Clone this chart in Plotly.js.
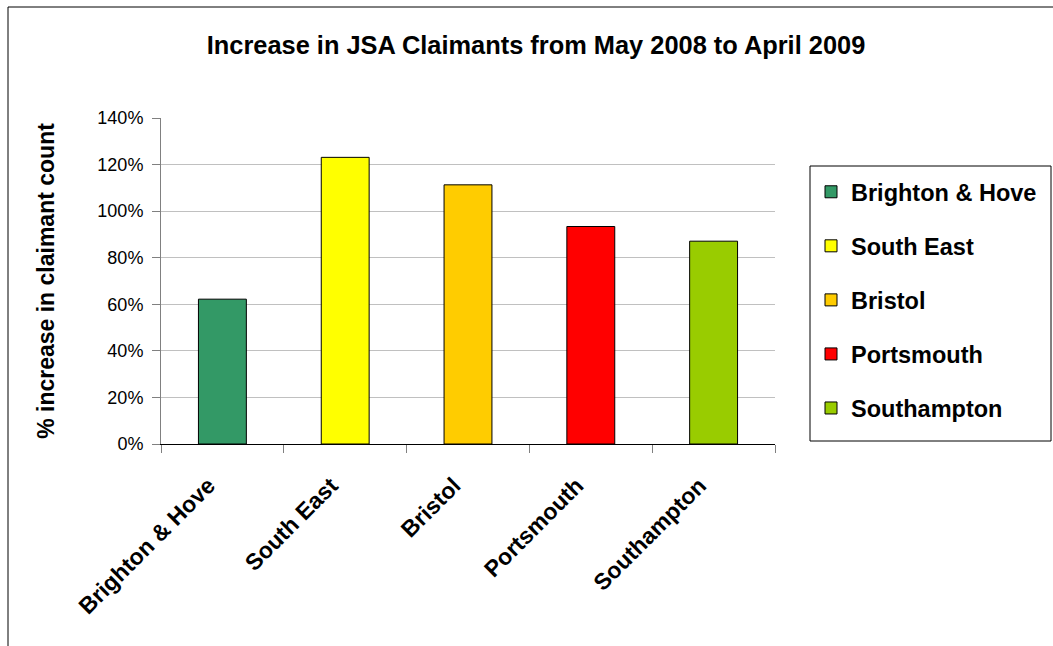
<!DOCTYPE html>
<html>
<head>
<meta charset="utf-8">
<script src="https://cdn.plot.ly/plotly-3.0.1.min.js"></script>
<style>
html,body{margin:0;padding:0;background:#fff;}
#chart{width:1053px;height:646px;}
</style>
</head>
<body>
<div id="chart"></div>
<script>
const categories = ["Brighton & Hove", "South East", "Bristol", "Portsmouth", "Southampton"];
const increases = [0.622, 1.231, 1.113, 0.934, 0.871];
const colors = ["#339966", "#FFFF00", "#FFCC00", "#FF0000", "#99CC00"];
const yTickValues = [0, 0.2, 0.4, 0.6, 0.8, 1.0, 1.2, 1.4];

const FONT = "Liberation Sans, Arial, sans-serif";

const traces = categories.map((c, i) => ({
  type: "bar",
  x: [c],
  y: [increases[i]],
  name: c,
  legendgroup: "g" + i,
  width: 0.39,
  marker: {color: colors[i], line: {color: "#000", width: 1}},
  hoverinfo: "x+y"
}));

const L = 161, R = 278, T = 118, B = 202;
const pw = 1053 - L - R, ph = 646 - T - B;
const px = v => (v - L) / pw;
const py = v => (646 - B - v) / ph;

const layout = {
  width: 1053, height: 646,
  margin: {l: L, r: R, t: T, b: B, pad: 0, autoexpand: false},
  paper_bgcolor: "#fff", plot_bgcolor: "#fff",
  barmode: "overlay",
  font: {family: FONT, color: "#000"},
  title: {
    text: "Increase in JSA Claimants from May 2008 to April 2009",
    font: {family: FONT, size: 25.4, weight: "bold", color: "#000"},
    x: 536 / 1053, xref: "container", xanchor: "center",
    y: 1 - 45 / 646, yref: "container", yanchor: "middle"
  },
  xaxis: {
    type: "category",
    categoryorder: "array", categoryarray: categories,
    showline: true, linecolor: "#000", linewidth: 1,
    ticks: "outside", tickson: "boundaries", ticklen: 8, tickcolor: "#808080",
    tickangle: -45,
    ticklabelstandoff: 18, ticklabelshift: -14,
    tickfont: {family: FONT, size: 23, weight: "bold", color: "#000"},
    showgrid: false, zeroline: false,
    range: [-0.5, 4.5]
  },
  yaxis: {
    range: [0, 1.4],
    tickvals: yTickValues,
    tickformat: ".0%",
    showline: true, linecolor: "#808080", linewidth: 1,
    ticks: "outside", ticklen: 8, tickcolor: "#808080",
    ticklabelstandoff: 5,
    tickfont: {family: FONT, size: 18, color: "#000"},
    showgrid: true, gridcolor: "#c0c0c0", gridwidth: 1,
    zeroline: false,
    title: {
      text: "% increase in claimant count\u00a0\u00a0",
      font: {family: FONT, size: 23, weight: "bold", color: "#000"},
      standoff: 36
    }
  },
  legend: {
    x: px(811), y: py(170), xanchor: "left", yanchor: "top",
    xref: "paper", yref: "paper",
    borderwidth: 0, bgcolor: "rgba(0,0,0,0)",
    font: {family: FONT, size: 23.5, weight: "bold", color: "#000"},
    tracegroupgap: 20.5,
    traceorder: "grouped"
  },
  shapes: [{
    type: "rect", xref: "paper", yref: "paper",
    x0: px(8), x1: px(1200), y0: py(800), y1: py(7),
    line: {color: "#000", width: 1}, fillcolor: "rgba(0,0,0,0)", layer: "below"
  }, {
    type: "rect", xref: "paper", yref: "paper",
    x0: px(810), x1: px(1051), y0: py(441), y1: py(166),
    line: {color: "#000", width: 1}, fillcolor: "#fff", layer: "below"
  }],
  showlegend: true
};

Plotly.newPlot("chart", traces, layout, {displayModeBar: false, staticPlot: true});
</script>
</body>
</html>
